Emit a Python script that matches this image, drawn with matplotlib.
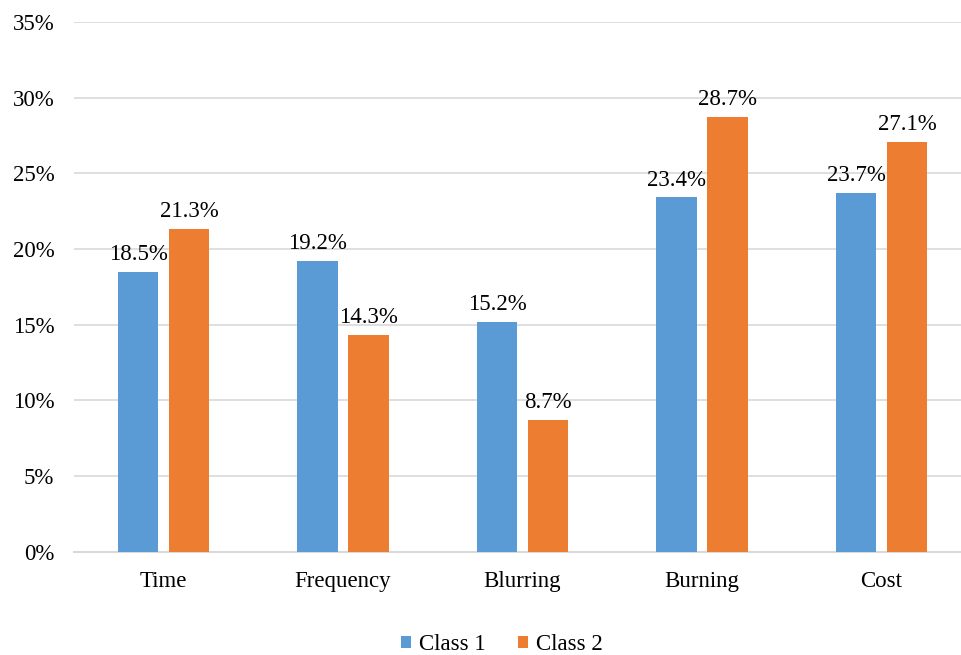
import matplotlib
matplotlib.use("Agg")
import matplotlib.pyplot as plt
import numpy as np
from matplotlib.ticker import FuncFormatter

# survey shares per factor, in percent
categories = ["Time", "Frequency", "Blurring", "Burning", "Cost"]
class1 = [18.5, 19.2, 15.2, 23.4, 23.7]
class2 = [21.3, 14.3, 8.7, 28.7, 27.1]
series_names = ["Class 1", "Class 2"]
yticks = [0, 5, 10, 15, 20, 25, 30, 35]

BLUE = "#5B9BD5"
ORANGE = "#ED7D31"

plt.rcParams["font.family"] = ["Liberation Serif", "DejaVu Serif"]
plt.rcParams["font.size"] = 16.5

fig = plt.figure(figsize=(9.62, 6.55), dpi=100)
axe = fig.add_axes([73.75 / 962, 1 - 551.5 / 655, 897.5 / 962, 529.5 / 655])

x = np.arange(len(categories))
w = 0.223
off = 0.142

b1 = axe.bar(x - off, class1, w, color=BLUE, label=series_names[0], zorder=3)
b2 = axe.bar(x + off, class2, w, color=ORANGE, label=series_names[1], zorder=3)

# value labels above each bar
for bars, vals in ((b1, class1), (b2, class2)):
    for rect, v in zip(bars, vals):
        axe.annotate(f"{v}%", (rect.get_x() + rect.get_width() / 2, v),
                     xytext=(0, 5), textcoords="offset points",
                     ha="center", va="bottom", color="#000000")

axe.set_xlim(-0.5, len(categories) - 0.5)
axe.set_ylim(0, 35)
axe.set_yticks(yticks)
axe.yaxis.set_major_formatter(FuncFormatter(lambda v, p: f"{v:.0f}%"))
axe.set_xticks(x)
axe.set_xticklabels(categories)
axe.tick_params(axis="x", length=0, pad=14)
axe.tick_params(axis="y", length=0, pad=14)
axe.yaxis.grid(True, color="#D9D9D9", linewidth=1.2, zorder=0)

for side in ("top", "right", "left"):
    axe.spines[side].set_visible(False)
axe.spines["bottom"].set_color("#D9D9D9")
axe.spines["bottom"].set_linewidth(1.5)

fig.legend(handles=[b1, b2], labels=series_names, loc="center",
           bbox_to_anchor=(502 / 962, 1 - 645 / 655), ncol=2, frameon=False,
           handlelength=0.45, handleheight=0.45, handletextpad=0.35,
           columnspacing=1.4)

fig.savefig("out.png", dpi=100)
